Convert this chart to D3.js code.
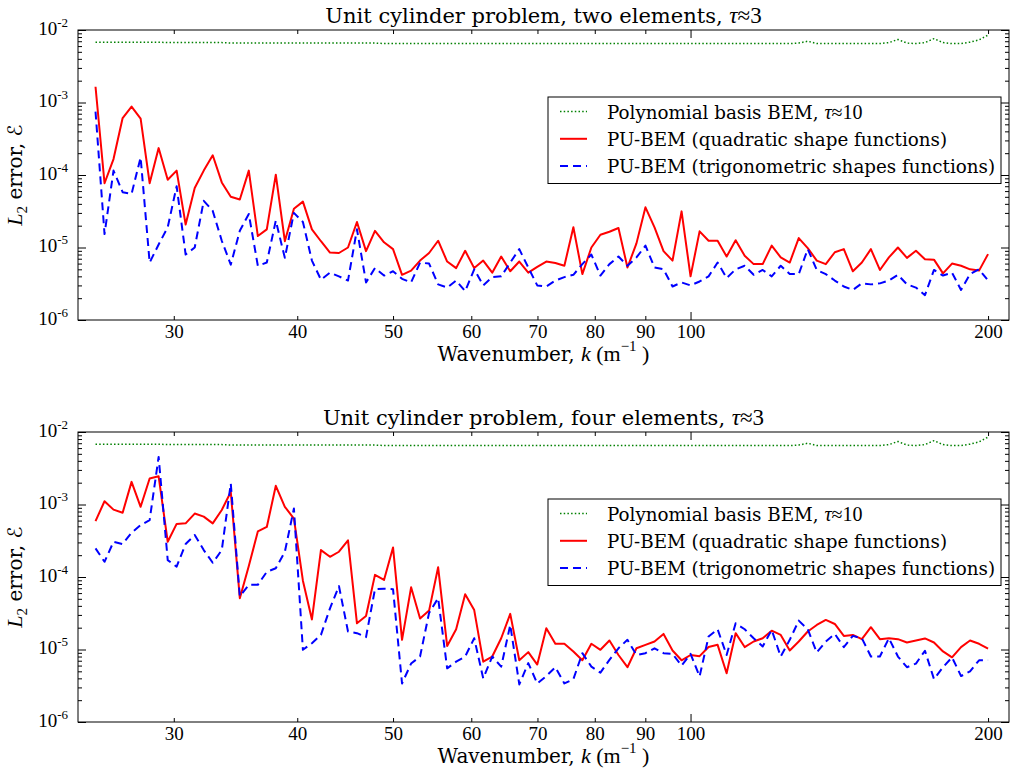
<!DOCTYPE html>
<html><head><meta charset="utf-8">
<script src="https://cdn.jsdelivr.net/npm/d3@7"></script>
<style>body{margin:0;background:#fff}svg{display:block}</style>
</head><body><svg id="chart" width="1010" height="770"></svg>
<script>
// ---------------- data ----------------
const wavenumbers = [
 25.00, 25.53, 26.07, 26.63, 27.19, 27.77, 28.36, 28.96, 29.58, 30.20,
 30.84, 31.50, 32.17, 32.85, 33.55, 34.26, 34.99, 35.73, 36.49, 37.26,
 38.05, 38.86, 39.69, 40.53, 41.39, 42.27, 43.17, 44.08, 45.02, 45.97,
 46.95, 47.94, 48.96, 50.00, 51.06, 52.15, 53.25, 54.38, 55.54, 56.72,
 57.92, 59.15, 60.41, 61.69, 63.00, 64.33, 65.70, 67.10, 68.52, 69.97,
 71.46, 72.98, 74.53, 76.11, 77.72, 79.37, 81.06, 82.78, 84.54, 86.33,
 88.16, 90.03, 91.95, 93.90, 95.89, 97.93, 100.00, 102.13, 104.29, 106.51,
 108.77, 111.08, 113.44, 115.84, 118.30, 120.81, 123.38, 126.00, 128.67, 131.40,
 134.19, 137.04, 139.95, 142.92, 145.96, 149.05, 152.22, 155.45, 158.75, 162.12,
 165.56, 169.07, 172.66, 176.33, 180.07, 183.89, 187.80, 191.78, 195.85, 200.00];

const polyBEM = [
 6.8e-3,6.8e-3,6.8e-3,6.8e-3,6.8e-3,6.8e-3,6.8e-3,6.8e-3,6.7e-3,6.7e-3,
 6.7e-3,6.7e-3,6.7e-3,6.7e-3,6.7e-3,6.6e-3,6.6e-3,6.6e-3,6.6e-3,6.6e-3,
 6.6e-3,6.6e-3,6.6e-3,6.6e-3,6.6e-3,6.6e-3,6.6e-3,6.6e-3,6.6e-3,6.6e-3,
 6.6e-3,6.6e-3,6.5e-3,6.5e-3,6.5e-3,6.5e-3,6.5e-3,6.5e-3,6.5e-3,6.5e-3,
 6.5e-3,6.5e-3,6.5e-3,6.5e-3,6.5e-3,6.5e-3,6.5e-3,6.5e-3,6.5e-3,6.5e-3,
 6.5e-3,6.5e-3,6.5e-3,6.5e-3,6.5e-3,6.5e-3,6.5e-3,6.5e-3,6.5e-3,6.5e-3,
 6.5e-3,6.5e-3,6.5e-3,6.5e-3,6.5e-3,6.5e-3,6.5e-3,6.5e-3,6.5e-3,6.5e-3,
 6.5e-3,6.5e-3,6.5e-3,6.5e-3,6.5e-3,6.5e-3,6.5e-3,6.5e-3,6.6e-3,7.0e-3,
 6.5e-3,6.5e-3,6.5e-3,6.5e-3,6.5e-3,6.5e-3,6.5e-3,6.5e-3,6.7e-3,7.4e-3,
 6.6e-3,6.5e-3,6.7e-3,7.6e-3,6.7e-3,6.5e-3,6.5e-3,6.8e-3,7.3e-3,8.5e-3];

const twoQuad = [
 1.65e-3,7.7e-5,1.66e-4,6.1e-4,8.8e-4,6.0e-4,7.7e-5,2.35e-4,8.6e-5,1.15e-4,
 2.07e-5,6.6e-5,1.15e-4,1.87e-4,7.9e-5,5.0e-5,4.6e-5,1.15e-4,1.44e-5,1.78e-5,
 1.01e-4,1.22e-5,3.43e-5,4.29e-5,1.78e-5,1.22e-5,8.5e-6,8.4e-6,1.0e-5,2.25e-5,
 8.9e-6,1.7e-5,1.18e-5,9.5e-6,4.2e-6,4.8e-6,6.6e-6,8.4e-6,1.24e-5,6.4e-6,
 5.2e-6,9.0e-6,5.2e-6,6.6e-6,4.5e-6,7.5e-6,4.7e-6,6.4e-6,4.5e-6,5.4e-6,
 6.4e-6,6.1e-6,5.6e-6,1.9e-5,4.3e-6,1.0e-5,1.5e-5,1.65e-5,1.86e-5,5.3e-6,
 1.14e-5,3.58e-5,1.9e-5,8.9e-6,6.6e-6,3.15e-5,4.0e-6,1.67e-5,1.24e-5,1.24e-5,
 7.5e-6,1.26e-5,7.7e-6,5.9e-6,5.9e-6,1.06e-5,7.3e-6,6.2e-6,1.35e-5,9.8e-6,
 6.6e-6,5.9e-6,8.6e-6,9.5e-6,4.7e-6,6.2e-6,9.5e-6,4.9e-6,7.3e-6,1.0e-5,
 7.2e-6,9.0e-6,6.9e-6,6.8e-6,4.4e-6,6.0e-6,5.6e-6,5.0e-6,4.8e-6,8.1e-6];

const twoTrig = [
 7.5e-4,1.53e-5,1.15e-4,5.8e-5,5.5e-5,1.75e-4,6.2e-6,1.1e-5,1.9e-5,7.0e-5,
 8.0e-6,1.0e-5,4.4e-5,3.2e-5,1.24e-5,5.8e-6,1.7e-5,2.9e-5,5.6e-6,6.2e-6,
 2.35e-5,7.2e-6,3.0e-5,2.25e-5,6.6e-6,3.6e-6,4.5e-6,4.0e-6,3.5e-6,1.78e-5,
 3.3e-6,5.2e-6,4.1e-6,4.7e-6,3.7e-6,3.3e-6,6.2e-6,6.0e-6,3.1e-6,2.8e-6,
 3.5e-6,2.5e-6,5.0e-6,3.0e-6,3.9e-6,4.0e-6,6.2e-6,9.5e-6,5.3e-6,3.0e-6,
 2.9e-6,3.5e-6,3.9e-6,4.2e-6,5.9e-6,8.0e-6,4.1e-6,5.9e-6,7.5e-6,5.6e-6,
 7.3e-6,1.06e-5,5.3e-6,5.0e-6,2.9e-6,3.3e-6,3.0e-6,3.4e-6,4.0e-6,6.2e-6,
 3.8e-6,5.0e-6,5.6e-6,4.2e-6,4.9e-6,4.0e-6,5.6e-6,4.3e-6,4.3e-6,9.5e-6,
 4.9e-6,4.3e-6,3.5e-6,2.9e-6,2.6e-6,3.2e-6,3.1e-6,3.2e-6,3.5e-6,4.2e-6,
 3.1e-6,2.8e-6,2.2e-6,4.9e-6,4.1e-6,4.5e-6,2.6e-6,4.3e-6,5.0e-6,3.5e-6];

const fourQuad = [
 5.9e-4,1.11e-3,8.5e-4,7.7e-4,2.05e-3,9.3e-4,2.28e-3,2.45e-3,3.06e-4,5.4e-4,
 5.5e-4,7.5e-4,6.8e-4,5.5e-4,8.4e-4,1.49e-3,5.1e-5,1.42e-4,4.25e-4,4.9e-4,
 1.81e-3,9.3e-4,6.4e-4,8.9e-5,2.6e-5,2.35e-4,1.9e-4,2.23e-4,3.2e-4,2.3e-5,
 2.9e-5,1.07e-4,9.1e-5,2.56e-4,1.36e-5,7.2e-5,2.67e-5,3.44e-5,1.36e-4,1.12e-5,
 1.9e-5,5.8e-5,3.5e-5,6.8e-6,8.0e-6,1.43e-5,3.1e-5,7.1e-6,9.2e-6,6.2e-6,
 1.97e-5,1.2e-5,1.2e-5,9.4e-6,7.1e-6,1.2e-5,9.9e-6,1.33e-5,8.4e-6,5.7e-6,
 1.04e-5,1.16e-5,1.29e-5,1.64e-5,9.7e-6,7.1e-6,8.4e-6,8.1e-6,1.08e-5,1.16e-5,
 4.7e-6,1.68e-5,1.08e-5,1.29e-5,1.43e-5,1.82e-5,1.59e-5,9.7e-6,1.29e-5,1.77e-5,
 2.18e-5,2.56e-5,2.25e-5,1.54e-5,1.59e-5,1.39e-5,2.03e-5,1.39e-5,1.43e-5,1.39e-5,
 1.25e-5,1.33e-5,1.42e-5,1.25e-5,9.4e-6,7.8e-6,1.08e-5,1.33e-5,1.2e-5,1.03e-5];

const fourTrig = [
 2.48e-4,1.62e-4,3.06e-4,2.85e-4,4.07e-4,5.2e-4,6.1e-4,4.53e-3,1.71e-4,1.39e-4,
 2.85e-4,3.8e-4,2.35e-4,1.57e-4,2.35e-4,1.95e-3,5.4e-5,7.8e-5,7.8e-5,1.18e-4,
 1.32e-4,2.23e-4,8.8e-4,9.9e-6,1.22e-5,1.59e-5,3.7e-5,7.5e-5,1.77e-5,1.68e-5,
 1.48e-5,6.8e-5,6.9e-5,6.8e-5,3.4e-6,6.4e-6,8.0e-6,3.2e-5,5.1e-5,5.5e-6,
 6.8e-6,8.0e-6,1.43e-5,4.0e-6,8.0e-6,5.8e-6,2.18e-5,3.3e-6,6.5e-6,3.4e-6,
 4.3e-6,5.7e-6,3.4e-6,3.9e-6,8.9e-6,5.8e-6,4.8e-6,7.2e-6,1.04e-5,1.36e-5,
 8.4e-6,8.9e-6,1.04e-5,8.9e-6,8.7e-6,6.0e-6,8.7e-6,4.25e-6,1.51e-5,1.9e-5,
 8.4e-6,2.3e-5,1.9e-5,1.43e-5,1.1e-5,1.86e-5,8.0e-6,1.36e-5,2.5e-5,1.9e-5,
 9.1e-6,1.29e-5,1.64e-5,1.08e-5,1.54e-5,1.43e-5,8.0e-6,8.0e-6,1.43e-5,8.0e-6,
 5.7e-6,6.4e-6,9.6e-6,3.9e-6,5.7e-6,7.8e-6,4.3e-6,5.0e-6,7.1e-6,7.1e-6];

const xTickLabels = [30, 40, 50, 60, 70, 80, 90, 100, 200];
const xMajorTicks = [100];
const yDecades = [1e-6, 1e-5, 1e-4, 1e-3, 1e-2];
const yExponents = ["-6", "-5", "-4", "-3", "-2"];
const panelTitles = ["Unit cylinder problem, two elements, ", "Unit cylinder problem, four elements, "];
const seriesLabels = ["Polynomial basis BEM, ", "PU-BEM (quadratic shape functions)", "PU-BEM (trigonometric shapes functions)"];

// ---------------- layout ----------------
const svg = d3.select("#chart");
const L = 78, R = 1009, PH = 290;
const panelTops = [30, 432];
const TXT = "DejaVu Serif", MATH = "Liberation Serif";

const x = d3.scaleLog().domain([24, 210]).range([L, R]);
const yMinor = [];
for (let e = -6; e < -2; e++) for (let m = 2; m <= 9; m++) yMinor.push(m * Math.pow(10, e));
const xMinorLabeled = xTickLabels.filter(v => !xMajorTicks.includes(v));

const panels = [
  {top: panelTops[0], title: panelTitles[0], quad: twoQuad, trig: twoTrig},
  {top: panelTops[1], title: panelTitles[1], quad: fourQuad, trig: fourTrig}
];

panels.forEach(p => {
  const top = p.top, bot = top + PH;
  const y = d3.scaleLog().domain([1e-6, 1e-2]).range([bot, top]);
  const g = svg.append("g");

  // frame
  g.append("rect").attr("x", L).attr("y", top).attr("width", R - L).attr("height", PH)
    .attr("fill", "none").attr("stroke", "#000").attr("stroke-width", 1);

  const styleAxis = sel => { sel.select(".domain").remove(); sel.selectAll("line").attr("stroke", "#000"); };

  // x axes bottom: labeled minor + major
  const xb1 = g.append("g").attr("transform", `translate(0,${bot})`)
    .call(d3.axisBottom(x).tickValues(xMinorLabeled).tickFormat(d3.format("d")).tickSizeInner(-4).tickSizeOuter(0).tickPadding(5));
  const xb2 = g.append("g").attr("transform", `translate(0,${bot})`)
    .call(d3.axisBottom(x).tickValues(xMajorTicks).tickFormat(d3.format("d")).tickSizeInner(-8).tickSizeOuter(0).tickPadding(5));
  [xb1, xb2].forEach(a => { styleAxis(a); a.selectAll("text").attr("font-family", MATH).attr("font-size", 19).attr("fill", "#000"); });
  // x axes top
  const xt1 = g.append("g").attr("transform", `translate(0,${top})`)
    .call(d3.axisTop(x).tickValues(xMinorLabeled).tickFormat("").tickSizeInner(-4).tickSizeOuter(0));
  const xt2 = g.append("g").attr("transform", `translate(0,${top})`)
    .call(d3.axisTop(x).tickValues(xMajorTicks).tickFormat("").tickSizeInner(-8).tickSizeOuter(0));
  [xt1, xt2].forEach(styleAxis);

  // y axes left / right
  const yl1 = g.append("g").attr("transform", `translate(${L},0)`)
    .call(d3.axisLeft(y).tickValues(yDecades).tickFormat("").tickSizeInner(-8).tickSizeOuter(0).tickPadding(10));
  const yl2 = g.append("g").attr("transform", `translate(${L},0)`)
    .call(d3.axisLeft(y).tickValues(yMinor).tickFormat("").tickSizeInner(-4).tickSizeOuter(0));
  const yr1 = g.append("g").attr("transform", `translate(${R},0)`)
    .call(d3.axisRight(y).tickValues(yDecades).tickFormat("").tickSizeInner(-8).tickSizeOuter(0));
  const yr2 = g.append("g").attr("transform", `translate(${R},0)`)
    .call(d3.axisRight(y).tickValues(yMinor).tickFormat("").tickSizeInner(-4).tickSizeOuter(0));
  [yl1, yl2, yr1, yr2].forEach(styleAxis);
  // decade labels 10^e
  yl1.selectAll(".tick text").each(function(d) {
    const t = d3.select(this).attr("font-family", MATH).attr("fill", "#000").attr("dy", "0.42em").attr("x", -10);
    t.text(null);
    t.append("tspan").attr("font-size", 19).text("10");
    t.append("tspan").attr("font-size", 13).attr("dy", "-0.62em").text(yExponents[yDecades.indexOf(d)]);
  });

  // title
  const tt = g.append("text").attr("x", (L + R) / 2).attr("y", top - 7).attr("text-anchor", "middle")
    .attr("font-family", TXT).attr("font-size", 21).attr("fill", "#000");
  tt.append("tspan").text(p.title);
  tt.append("tspan").attr("font-family", MATH).attr("font-style", "italic").attr("font-size", 23).text("τ");
  tt.append("tspan").attr("font-family", MATH).attr("font-size", 23).text("≈3");

  // x label
  const xl = g.append("text").attr("x", (L + R) / 2).attr("y", bot + 41).attr("text-anchor", "middle")
    .attr("font-family", TXT).attr("font-size", 20).attr("fill", "#000");
  xl.append("tspan").text("Wavenumber, ");
  xl.append("tspan").attr("font-family", MATH).attr("font-style", "italic").attr("font-size", 22).text("k");
  xl.append("tspan").attr("font-family", MATH).attr("font-size", 22).text(" (m");
  xl.append("tspan").attr("font-family", MATH).attr("font-size", 15).attr("dy", "-0.7em").text("−1");
  xl.append("tspan").attr("font-family", MATH).attr("font-size", 22).attr("dy", "0.48em").text(" )");

  // y label
  const yc = (top + bot) / 2;
  const yl = g.append("text").attr("transform", `translate(22,${yc}) rotate(-90)`).attr("text-anchor", "middle")
    .attr("font-family", TXT).attr("font-size", 20).attr("fill", "#000");
  yl.append("tspan").attr("font-family", MATH).attr("font-style", "italic").attr("font-size", 22).text("L");
  yl.append("tspan").attr("font-family", MATH).attr("font-size", 15).attr("dy", "0.3em").text("2");
  yl.append("tspan").attr("dy", "-0.22em").text(" error, ");
  yl.append("tspan").attr("font-family", "DejaVu Sans").attr("font-size", 20).text("ℰ");

  // series
  const mk = vals => wavenumbers.map((k, i) => ({k, v: vals[i]}));
  const line = d3.line().x(d => x(d.k)).y(d => y(d.v));
  const series = [
    {data: polyBEM, color: "#008000", dash: "1.5,2.2", w: 1.5},
    {data: p.quad, color: "#ff0000", dash: null, w: 2},
    {data: p.trig, color: "#0000ff", dash: "8,5", w: 2}
  ];
  series.forEach(s => {
    g.append("path").datum(mk(s.data)).attr("d", line).attr("fill", "none")
      .attr("stroke", s.color).attr("stroke-width", s.w).attr("stroke-dasharray", s.dash)
      .attr("stroke-linejoin", "round");
  });

  // legend
  const lx = 548, ly = top + 67, lw = 453, lh = 86.5;
  const lg = g.append("g");
  lg.append("rect").attr("x", lx).attr("y", ly).attr("width", lw).attr("height", lh)
    .attr("fill", "#fff").attr("stroke", "#000").attr("stroke-width", 1);
  series.forEach((s, i) => {
    const cy = ly + 14.5 + i * 27.3;
    lg.append("line").attr("x1", 560).attr("x2", 587).attr("y1", cy).attr("y2", cy)
      .attr("stroke", s.color).attr("stroke-width", s.w).attr("stroke-dasharray", s.dash);
    const t = lg.append("text").attr("x", 607).attr("y", cy + 7).attr("font-family", TXT)
      .attr("font-size", 18.3).attr("fill", "#000");
    t.append("tspan").text(seriesLabels[i]);
    if (i === 0) {
      t.append("tspan").attr("font-family", MATH).attr("font-style", "italic").attr("font-size", 20).text("τ");
      t.append("tspan").attr("font-family", MATH).attr("font-size", 20).text("≈10");
    }
  });
});
</script></body></html>
